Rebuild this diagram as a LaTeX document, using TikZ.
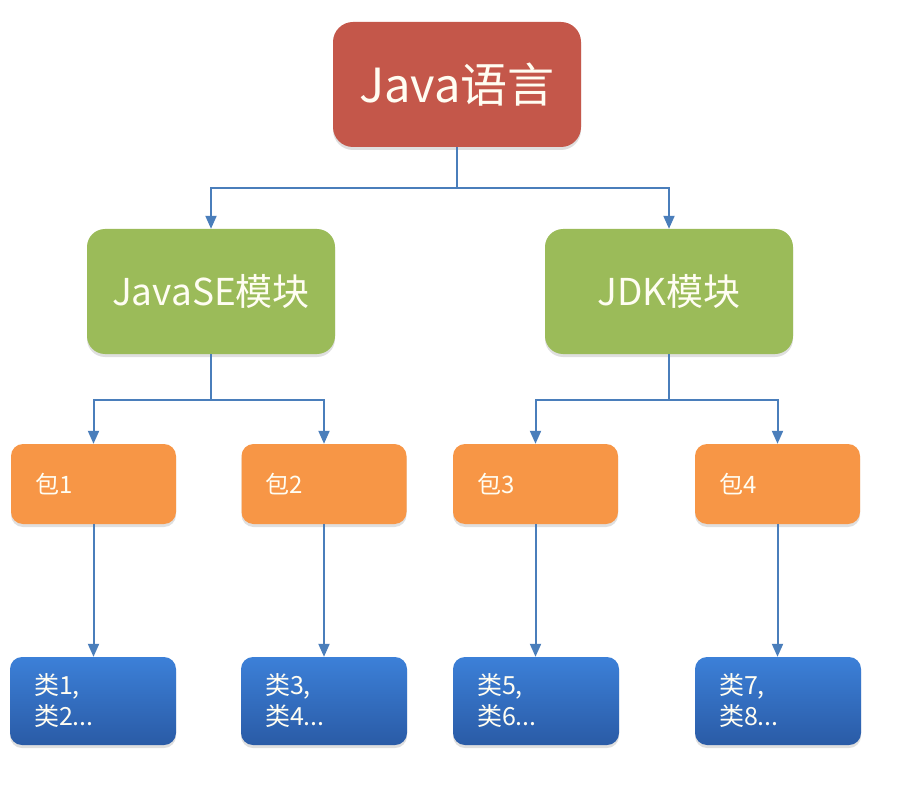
\documentclass[tikz,border=0pt]{standalone}
\usepackage{fontspec}
\setmainfont{Noto Sans CJK SC}
\usetikzlibrary{arrows.meta,shadows}
\definecolor{cred}{HTML}{C4574A}
\definecolor{cgreen}{HTML}{9BBB59}
\definecolor{corange}{HTML}{F79646}
\definecolor{cbluetop}{HTML}{3C80D8}
\definecolor{cbluebot}{HTML}{2A5BA6}
\definecolor{cline}{HTML}{4A7EBB}
\definecolor{ctext}{HTML}{FFFDF2}
\tikzset{
  base/.style={rounded corners=12pt, text=ctext, inner sep=0pt,
    drop shadow={opacity=0.25, shadow xshift=0pt, shadow yshift=-3pt}},
  topbox/.style={base, fill=cred, rounded corners=20pt, minimum width=248pt, minimum height=125pt, font=\fontsize{47}{52}\selectfont},
  midbox/.style={base, fill=cgreen, rounded corners=18pt, minimum width=248pt, minimum height=125pt, font=\fontsize{37}{42}\selectfont},
  pkgbox/.style={base, fill=corange, text width=117pt, inner xsep=24pt, minimum height=80pt, align=left, font=\fontsize{24}{28}\selectfont},
  clsbox/.style={base, top color=cbluetop, bottom color=cbluebot, text width=118pt, inner xsep=24pt, minimum height=88pt, align=left, font=\fontsize{25}{31}\selectfont},
  conn/.style={draw=cline, line width=2pt, -{Triangle[width=11pt,length=13pt]}}
}
\begin{document}
\begin{tikzpicture}[x=1pt,y=-1pt]
\useasboundingbox[fill=white] (0,0) rectangle (899,786);
\node[topbox] (java) at (457,84.5) {Java语言};
\node[midbox] (se) at (211,291.5) {JavaSE模块};
\node[midbox] (jdk) at (669,291.5) {JDK模块};
\node[pkgbox] (p1) at (93.5,484) {包1};
\node[pkgbox] (p2) at (324,484) {包2};
\node[pkgbox] (p3) at (535.5,484) {包3};
\node[pkgbox] (p4) at (777.5,484) {包4};
\node[clsbox] (c1) at (93,701) {类1,\\类2...};
\node[clsbox] (c2) at (324,701) {类3,\\类4...};
\node[clsbox] (c3) at (536,701) {类5,\\类6...};
\node[clsbox] (c4) at (778,701) {类7,\\类8...};
\draw[conn] (java.south) -- ++(0,41) -| (se.north);
\draw[conn] (java.south) -- ++(0,41) -| (jdk.north);
\draw[conn] (se.south) -- ++(0,46) -| (p1.north);
\draw[conn] (se.south) -- ++(0,46) -| (p2.north);
\draw[conn] (jdk.south) -- ++(0,46) -| (p3.north);
\draw[conn] (jdk.south) -- ++(0,46) -| (p4.north);
\draw[conn] (p1.south) -- (p1.south |- c1.north);
\draw[conn] (p2.south) -- (p2.south |- c2.north);
\draw[conn] (p3.south) -- (p3.south |- c3.north);
\draw[conn] (p4.south) -- (p4.south |- c4.north);
\end{tikzpicture}
\end{document}
